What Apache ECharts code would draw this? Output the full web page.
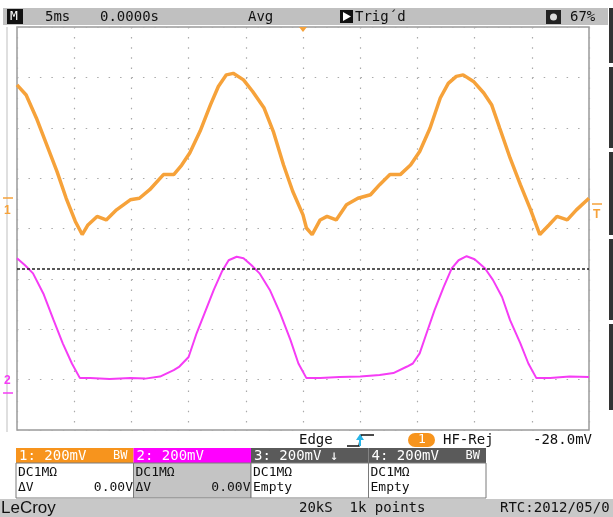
<!DOCTYPE html>
<html>
<head>
<meta charset="utf-8">
<script src="https://cdn.jsdelivr.net/npm/echarts@6/dist/echarts.min.js"></script>
<style>
html, body { margin: 0; padding: 0; background: #fff; }
#scope { width: 613px; height: 517px; }
</style>
</head>
<body>
<div id="scope"></div>
<script>
// Scope capture: 5 ms/div, trigger at centre of screen.
// time in ms, level in divisions counted from bottom of screen (8 divs tall)

var ch1Time = [-25.0, -24.2, -23.3, -22.4, -21.5, -20.7, -19.9, -19.3, -18.8, -18.0,
  -17.2, -16.3, -15.1, -14.3, -13.4, -12.2, -11.3, -10.6, -9.9, -9.0,
  -8.1, -7.4, -6.7, -6.1, -5.2, -4.4, -3.4, -2.6, -1.7, -0.9,
  0.0, 0.3, 0.8, 1.5, 2.1, 2.9, 3.8, 4.8, 5.9, 6.7,
  7.6, 8.5, 9.4, 10.2, 11.1, 12.0, 12.7, 13.4, 14.0, 14.9,
  15.8, 16.5, 17.2, 18.1, 19.0, 19.9, 20.7, 21.5, 22.2, 23.1,
  23.9, 25.0];
var ch1Level = [6.85, 6.65, 6.19, 5.66, 5.13, 4.60, 4.14, 3.88, 4.07, 4.24,
  4.17, 4.37, 4.57, 4.60, 4.77, 5.07, 5.07, 5.26, 5.50, 5.93,
  6.45, 6.82, 7.05, 7.08, 6.95, 6.72, 6.39, 5.93, 5.26, 4.74,
  4.27, 4.01, 3.88, 4.17, 4.24, 4.17, 4.47, 4.60, 4.67, 4.87,
  5.07, 5.07, 5.26, 5.53, 5.99, 6.59, 6.88, 7.02, 7.05, 6.92,
  6.69, 6.45, 5.99, 5.40, 4.87, 4.37, 3.88, 4.07, 4.24, 4.17,
  4.37, 4.60];

var ch2Time = [-25.0, -24.3, -23.6, -22.7, -21.8, -21.0, -20.2, -19.5, -18.6, -16.9,
  -15.1, -13.8, -12.5, -11.3, -10.8, -10.0, -9.3, -8.6, -7.8, -7.1,
  -6.5, -5.8, -5.2, -4.5, -3.8, -2.9, -2.0, -1.1, -0.4, 0.3,
  1.5, 3.2, 5.0, 6.7, 7.9, 9.1, 9.6, 10.2, 10.8, 11.5,
  12.3, 13.0, 13.6, 14.3, 15.0, 15.9, 16.6, 17.4, 18.1, 19.0,
  19.7, 20.4, 21.6, 23.3, 25.0];
var ch2Level = [3.41, 3.27, 3.11, 2.71, 2.18, 1.72, 1.32, 1.03, 1.03, 1.01,
  1.03, 1.02, 1.06, 1.19, 1.26, 1.45, 1.92, 2.32, 2.78, 3.14,
  3.37, 3.44, 3.41, 3.27, 3.11, 2.78, 2.32, 1.79, 1.32, 1.03,
  1.03, 1.05, 1.06, 1.09, 1.13, 1.26, 1.32, 1.52, 1.92, 2.38,
  2.84, 3.21, 3.37, 3.45, 3.39, 3.21, 2.98, 2.64, 2.18, 1.72,
  1.32, 1.03, 1.03, 1.06, 1.05];

var trigLevel = 3.2;

var chanLabels = ['1: 200mV', '2: 200mV', '3: 200mV \u2193', '4: 200mV'];
var chanBW = ['BW', '', '', 'BW'];
var chanCoupling = ['DC1M\u03A9', 'DC1M\u03A9', 'DC1M\u03A9', 'DC1M\u03A9'];
var chanMeasure = ['\u0394V', '\u0394V', 'Empty', 'Empty'];
var chanValue = ['0.00V', '0.00V', '', ''];

var ORANGE = '#F6A23A';
var MAGENTA = '#F53CF5';
var MONO = '"DejaVu Sans Mono", monospace';

function zip(a, b) {
  var out = [];
  for (var i = 0; i < a.length; i++) out.push([a[i], b[i]]);
  return out;
}

// small helpers for the screen chrome
function txt(x, y, s, fill, size, extra) {
  var st = { text: s, x: x, y: y, fill: fill || '#111', font: (size || 14) + 'px ' + MONO, verticalAlign: 'middle' };
  if (extra) for (var k in extra) st[k] = extra[k];
  return { type: 'text', style: st, z: 10 };
}
function box(x, y, w, h, fill, stroke) {
  return { type: 'rect', shape: { x: x, y: y, width: w, height: h },
    style: { fill: fill, stroke: stroke || null, lineWidth: 1 }, z: 5 };
}

var g = [];
// top status bar
g.push(box(3, 8, 605, 17, '#c0c0c0'));
g.push(box(7, 9, 16, 15, '#111'));
g.push(txt(10, 17, 'M', '#fff', 13));
g.push(txt(45, 17, '5ms'));
g.push(txt(100, 17, '0.0000s'));
g.push(txt(248, 17, 'Avg'));
g.push(box(340, 10, 13, 13, '#111'));
g.push({ type: 'polygon', shape: { points: [[343, 12], [343, 21], [351, 16.5]] }, style: { fill: '#fff' }, z: 11 });
g.push(txt(355, 17, 'Trig\u00B4d'));
g.push(box(546, 10, 15, 14, '#222'));
g.push({ type: 'circle', shape: { cx: 553.5, cy: 17, r: 3.5 }, style: { fill: '#ddd' }, z: 11 });
g.push(txt(570, 17, '67%'));

// side strips
g.push({ type: 'line', shape: { x1: 7, y1: 27, x2: 7, y2: 432 }, style: { stroke: '#d4d4d4', lineWidth: 1.5 }, z: 4 });
var sideSegs = [[8, 63], [67, 148], [152, 235], [239, 320], [324, 410]];
sideSegs.forEach(function (s) { g.push(box(609, s[0], 4, s[1] - s[0], '#333')); });

// channel / trigger markers
g.push(txt(4, 211, '1', ORANGE, 16, { fontWeight: 'bold' }));
g.push({ type: 'line', shape: { x1: 3, y1: 198, x2: 13, y2: 198 }, style: { stroke: ORANGE, lineWidth: 1.5 }, z: 10 });
g.push(txt(4, 381, '2', MAGENTA, 16, { fontWeight: 'bold' }));
g.push({ type: 'line', shape: { x1: 3, y1: 393, x2: 13, y2: 393 }, style: { stroke: MAGENTA, lineWidth: 1.5 }, z: 10 });
g.push(txt(593, 215, 'T', ORANGE, 16, { fontWeight: 'bold' }));
g.push({ type: 'line', shape: { x1: 592, y1: 204, x2: 602, y2: 204 }, style: { stroke: ORANGE, lineWidth: 1.5 }, z: 10 });
g.push({ type: 'polygon', shape: { points: [[299, 27], [307, 27], [303, 32]] }, style: { fill: ORANGE }, z: 10 });

// trigger line below the graticule
g.push(txt(299, 440, 'Edge'));
g.push({ type: 'polyline', shape: { points: [[347, 446], [359, 446], [361, 435], [374, 435]] }, style: { stroke: '#111', lineWidth: 1.5, fill: null }, z: 10 });
g.push({ type: 'line', shape: { x1: 360, y1: 446, x2: 360, y2: 436 }, style: { stroke: '#27b5e8', lineWidth: 2 }, z: 11 });
g.push({ type: 'polygon', shape: { points: [[356, 440], [364, 440], [360, 434]] }, style: { fill: '#27b5e8' }, z: 11 });
g.push({ type: 'rect', shape: { x: 408, y: 433, width: 27, height: 14, r: 7 }, style: { fill: '#F7941D' }, z: 10 });
g.push(txt(418, 440, '1', '#fff', 13));
g.push(txt(443, 440, 'HF-Rej'));
g.push(txt(533, 440, '-28.0mV'));

// channel boxes
var headFill = ['#F7941D', '#FF00FF', '#5a5a5a', '#5a5a5a'];
var bodyFill = ['#fff', '#c4c4c4', '#fff', '#fff'];
for (var i = 0; i < 4; i++) {
  var bx = 16 + i * 117.5;
  g.push(box(bx, 448, 117.5, 15, headFill[i]));
  g.push(box(bx, 463, 117.5, 35, bodyFill[i], '#7a7a7a'));
  g.push(txt(bx + 3, 456, chanLabels[i], '#fff'));
  if (chanBW[i]) g.push(txt(bx + 97, 456, chanBW[i], '#fff', 12));
  g.push(txt(bx + 2, 473, chanCoupling[i], '#111', 13));
  g.push(txt(bx + 2, 488, chanMeasure[i], '#111', 13));
  if (chanValue[i]) g.push(txt(bx + 117, 488, chanValue[i], '#111', 13, { align: 'right' }));
}

// bottom bar
g.push(box(0, 499, 613, 18, '#c8c8c8'));
g.push(txt(1, 508, 'LeCroy', '#111', 17, { font: '17px "Liberation Sans", sans-serif' }));
g.push(txt(299, 508, '20kS  1k points'));
g.push(txt(500, 508, 'RTC:2012/05/0'));

var chart = echarts.init(document.getElementById('scope'));
chart.setOption({
  animation: false,
  backgroundColor: '#fff',
  grid: { left: 17, top: 27, width: 572, height: 403, show: true, borderColor: '#9a9a9a', borderWidth: 1.5, backgroundColor: '#fff' },
  xAxis: {
    type: 'value', min: -25, max: 25, interval: 5,
    axisLine: { show: false }, axisTick: { show: false }, axisLabel: { show: false },
    splitLine: { show: true, lineStyle: { color: '#aaaaaa', width: 1.2, type: [1.5, 8.6] } }
  },
  yAxis: {
    type: 'value', min: 0, max: 8, interval: 1,
    axisLine: { show: false }, axisTick: { show: false }, axisLabel: { show: false },
    splitLine: { show: true, lineStyle: { color: '#aaaaaa', width: 1.2, type: [1.5, 9.95] } }
  },
  series: [
    {
      name: 'C1', type: 'line', data: zip(ch1Time, ch1Level), symbol: 'none',
      lineStyle: { color: ORANGE, width: 3.5 }, z: 3
    },
    {
      name: 'C2', type: 'line', data: zip(ch2Time, ch2Level), symbol: 'none',
      lineStyle: { color: MAGENTA, width: 2 }, z: 3,
      markLine: {
        silent: true, symbol: 'none', label: { show: false },
        lineStyle: { color: '#222', width: 1.5, type: [3, 2] },
        data: [{ yAxis: trigLevel }]
      }
    }
  ],
  graphic: g
});
</script>
</body>
</html>
